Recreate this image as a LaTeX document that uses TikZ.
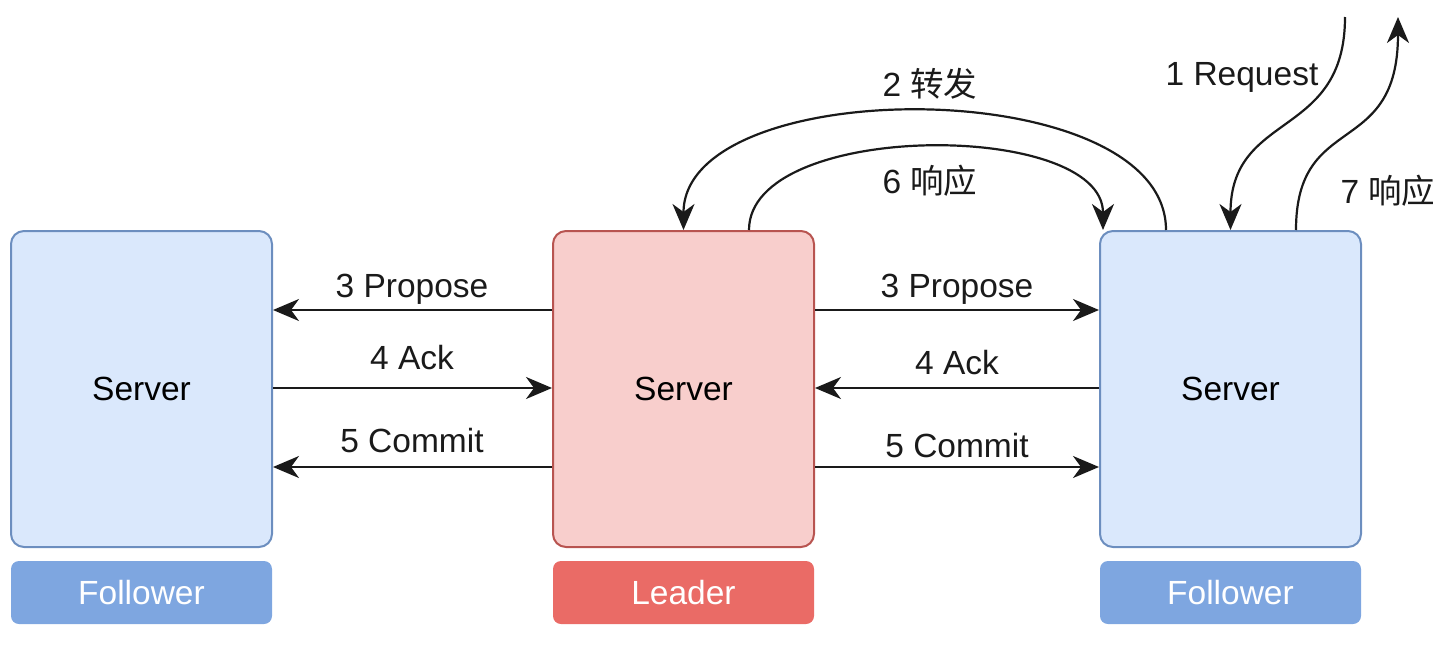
\documentclass[tikz,border=0pt]{standalone}
\usepackage{fontspec}
\setmainfont{Liberation Sans}
\newfontfamily\cjk{Noto Sans CJK SC}
\usetikzlibrary{arrows.meta}
\definecolor{bfill}{HTML}{DAE8FC}
\definecolor{bline}{HTML}{6C8EBF}
\definecolor{rfill}{HTML}{F8CECC}
\definecolor{rline}{HTML}{B85450}
\definecolor{blab}{HTML}{7EA6E0}
\definecolor{rlab}{HTML}{EA6B66}
\definecolor{ink}{HTML}{1A1A1A}
\tikzset{
  srv/.style={rectangle, rounded corners=13pt, minimum width=261pt, minimum height=316pt, line width=2pt, inner sep=0pt, font=\fontsize{33.5}{40}\selectfont},
  bsrv/.style={srv, draw=bline, fill=bfill},
  rsrv/.style={srv, draw=rline, fill=rfill},
  tag/.style={rectangle, rounded corners=8pt, minimum width=261pt, minimum height=63pt, inner sep=0pt, text=white, font=\fontsize{33.5}{40}\selectfont},
  conn/.style={draw=ink, line width=2.2pt, -{Stealth[length=26pt,width=22pt,inset=8pt]}},
  lbl/.style={text=ink, inner sep=0pt, font=\fontsize{33.5}{40}\selectfont},
}
\begin{document}
\begin{tikzpicture}[x=1pt,y=-1pt]
\useasboundingbox (0,0) rectangle (1452,648);
\node[bsrv] (L) at (141.5,389) {Server};
\node[rsrv] (C) at (683.5,389) {Server};
\node[bsrv] (R) at (1230.5,389) {Server};
\node[tag, fill=blab] (LT) at (141.5,592.5) {Follower};
\node[tag, fill=rlab] (CT) at (683.5,592.5) {Leader};
\node[tag, fill=blab] (RT) at (1230.5,592.5) {Follower};

% horizontal connectors
\draw[conn] ([yshift=79pt]C.west) -- ([yshift=79pt]L.east);
\draw[conn] ([yshift=1pt]L.east) -- ([yshift=1pt]C.west);
\draw[conn] ([yshift=-78pt]C.west) -- ([yshift=-78pt]L.east);
\draw[conn] ([yshift=79pt]C.east) -- ([yshift=79pt]R.west);
\draw[conn] ([yshift=1pt]R.west) -- ([yshift=1pt]C.east);
\draw[conn] ([yshift=-78pt]C.east) -- ([yshift=-78pt]R.west);

\node[lbl] (p1) at (412,289) {3 Propose};
\node[lbl] (a1) at (412,358) {4 Ack};
\node[lbl] (c1) at (412,441) {5 Commit};
\node[lbl] (p2) at (957,289) {3 Propose};
\node[lbl] (a2) at (957,363) {4 Ack};
\node[lbl] (c2) at (957,446) {5 Commit};

% curved connectors
\coordinate (r2) at ([xshift=-64.5pt]R.north);
\coordinate (c2t) at (C.north);
\draw[conn] (r2) .. controls (1166,72) and (683.5,72) .. (c2t);
\coordinate (c6) at ([xshift=65.5pt]C.north);
\coordinate (r6) at ([xshift=-127.5pt]R.north);
\draw[conn] (c6) .. controls (749,120) and (1103,120) .. (r6);

\coordinate (reqs) at (1345,17);
\coordinate (rin) at (R.north);
\draw[conn] (reqs) .. controls (1345,140) and (1230.5,110) .. (rin);
\coordinate (rout) at ([xshift=65.5pt]R.north);
\coordinate (rese) at (1398,17);
\draw[conn] (rout) .. controls (1296,110) and (1398,160) .. (rese);

\node[lbl] (t2) at (930,84) {2 {\cjk 转发}};
\node[lbl] (t6) at (930,181) {6 {\cjk 响应}};
\node[lbl] (t1) at (1242,77) {1 Request};
\node[lbl] (t7) at (1388,191) {7 {\cjk 响应}};
\end{tikzpicture}
\end{document}
